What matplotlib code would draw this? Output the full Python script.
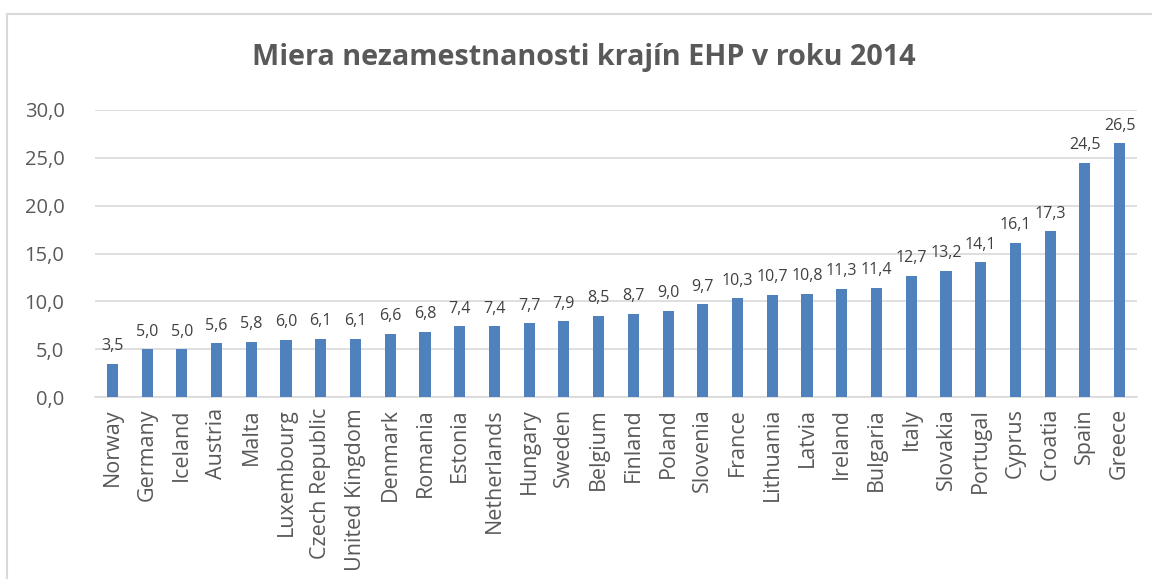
import matplotlib
matplotlib.use("Agg")
import matplotlib.pyplot as plt
from matplotlib.patches import Rectangle

countries = ["Norway", "Germany", "Iceland", "Austria", "Malta", "Luxembourg",
             "Czech Republic", "United Kingdom", "Denmark", "Romania", "Estonia",
             "Netherlands", "Hungary", "Sweden", "Belgium", "Finland", "Poland",
             "Slovenia", "France", "Lithuania", "Latvia", "Ireland", "Bulgaria",
             "Italy", "Slovakia", "Portugal", "Cyprus", "Croatia", "Spain", "Greece"]
rates = [3.5, 5.0, 5.0, 5.6, 5.8, 6.0, 6.1, 6.1, 6.6, 6.8, 7.4, 7.4, 7.7, 7.9,
         8.5, 8.7, 9.0, 9.7, 10.3, 10.7, 10.8, 11.3, 11.4, 12.7, 13.2, 14.1,
         16.1, 17.3, 24.5, 26.5]
yticks = [0, 5, 10, 15, 20, 25, 30]

plt.rcParams['font.family'] = ['Open Sans', 'DejaVu Sans']
txt = '#595959'

fig = plt.figure(figsize=(11.52, 5.79), dpi=100)
fig.patches.append(Rectangle((7/1152, -0.1), 1.2, 1 - 14/579 + 0.1,
                             transform=fig.transFigure, fill=False,
                             edgecolor='#d9d9d9', linewidth=1.5))
ax = fig.add_axes([95/1152, 1 - 397/579, (1137 - 95)/1152, (397 - 110)/579])

x = range(len(countries))
ax.bar(x, rates, width=0.32, color='#4F81BD', zorder=3)
for i, v in zip(x, rates):
    ax.text(i, v + 1.0, f"{v:.1f}".replace('.', ','), ha='center', va='bottom',
            fontsize=11.5, color='#404040')

ax.set_xlim(-0.5, len(countries) - 0.5)
ax.set_ylim(0, 30)
ax.set_yticks(yticks)
ax.set_yticklabels([f"{t:.1f}".replace('.', ',') for t in yticks], fontsize=14.5, color=txt)
ax.set_xticks(list(x))
ax.set_xticklabels(countries, rotation=90, fontsize=15.5, color=txt)
ax.tick_params(axis='both', length=0)
ax.tick_params(axis='y', pad=22)
ax.tick_params(axis='x', pad=8)
ax.grid(axis='y', color='#d9d9d9', linewidth=1.2, zorder=0)
for s in ['top', 'right', 'left']:
    ax.spines[s].set_visible(False)
ax.spines['bottom'].set_color('#d9d9d9')
ax.spines['bottom'].set_linewidth(1.2)

fig.text(0.507, 1 - 58/579, "Miera nezamestnanosti krajín EHP v roku 2014",
         ha='center', va='center', fontsize=20.7, fontweight='bold', color=txt)

fig.savefig("out.png", dpi=100)
